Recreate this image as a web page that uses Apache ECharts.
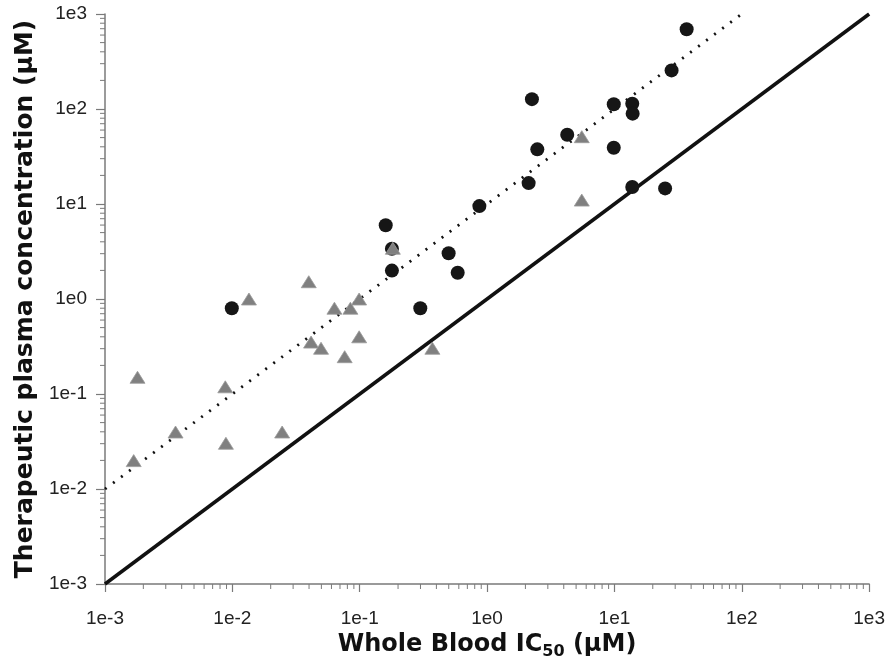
<!DOCTYPE html>
<html>
<head>
<meta charset="utf-8">
<script src="https://cdn.jsdelivr.net/npm/echarts@6/dist/echarts.min.js"></script>
<style>html,body{margin:0;padding:0;background:#fff}#c{width:888px;height:666px}</style>
</head>
<body>
<div id="c"></div>
<script>
// Circles (black)
const circleX = [0.0099, 0.160, 0.179, 0.179, 0.299, 0.499, 0.588, 0.87, 2.12, 2.25, 2.48, 4.26, 9.88, 13.8, 13.9, 9.88, 13.8, 25.0, 28.1, 36.9];
const circleY = [0.80, 5.97, 1.99, 3.38, 0.80, 3.03, 1.89, 9.5, 16.6, 127, 37.6, 53.6, 112, 113.7, 89.3, 39.1, 15.1, 14.6, 255, 690];
// Triangles (grey)
const triX = [0.0018, 0.00168, 0.00358, 0.0088, 0.0089, 0.0246, 0.0135, 0.0398, 0.0633, 0.0845, 0.0989, 0.182, 5.54, 5.54, 0.0415, 0.0497, 0.099, 0.0762, 0.372];
const triY = [0.15, 0.0199, 0.0398, 0.119, 0.0303, 0.0398, 1.0, 1.52, 0.80, 0.80, 1.0, 3.42, 51.1, 11.0, 0.352, 0.303, 0.40, 0.247, 0.303];
// Reference lines
const unityX = [0.001, 1000];
const unityY = [0.001, 1000];
const tenfoldX = [0.001, 100];
const tenfoldY = [0.01, 1000];
// Axis ticks
const tickLabels = ['1e-3', '1e-2', '1e-1', '1e0', '1e1', '1e2', '1e3'];
const axisMin = 0.001, axisMax = 1000;

const zip = (a, b) => a.map((v, i) => [v, b[i]]);
const minorVals = [];
for (let e = -3; e < 3; e++) for (let m = 2; m <= 9; m++) minorVals.push(m * Math.pow(10, e));

const fmt = v => { const e = Math.round(Math.log10(v)); return tickLabels[e + 3] || ''; };
const axisGrey = '#7a7a7a';
const font = "Liberation Sans, Arial, sans-serif";
const titleFont = "DejaVu Sans, sans-serif";

const chart = echarts.init(document.getElementById('c'));
chart.setOption({
  animation: false,
  backgroundColor: '#fff',
  grid: { left: 105, right: 17.5, top: 14, bottom: 82, containLabel: false },
  xAxis: {
    type: 'log', min: axisMin, max: axisMax, logBase: 10,
    axisLine: { show: true, lineStyle: { color: axisGrey, width: 1.5 } },
    axisTick: { show: true, inside: false, length: 8, lineStyle: { color: axisGrey, width: 1.2 } },
    splitLine: { show: false },
    axisLabel: { formatter: fmt, color: '#222', fontSize: 19, fontFamily: font, margin: 25 },
    name: '{t|Whole Blood IC}{s|50}{t| (μM)}',
    nameLocation: 'middle', nameGap: 46,
    nameTextStyle: {
      rich: {
        t: { fontSize: 24, fontWeight: 'bold', color: '#111', fontFamily: titleFont },
        s: { fontSize: 16, fontWeight: 'bold', color: '#111', fontFamily: titleFont, padding: [13, 0, 0, 0] }
      }
    }
  },
  yAxis: {
    type: 'log', min: axisMin, max: axisMax, logBase: 10,
    axisLine: { show: true, lineStyle: { color: axisGrey, width: 1.5 } },
    axisTick: { show: true, inside: false, length: 9, lineStyle: { color: axisGrey, width: 1.2 } },
    splitLine: { show: false },
    axisLabel: { formatter: fmt, color: '#222', fontSize: 19, fontFamily: font, margin: 18 },
    name: 'Therapeutic plasma concentration (μM)',
    nameLocation: 'middle', nameGap: 59, nameRotate: 90,
    nameTextStyle: { fontSize: 25, fontWeight: 'bold', color: '#111', fontFamily: titleFont }
  },
  series: [
    {
      type: 'custom', silent: true, z: 1,
      data: minorVals.map(v => [v, axisMin]),
      renderItem: (params, api) => {
        const p = api.coord([api.value(0), axisMin]);
        return { type: 'line', shape: { x1: p[0], y1: p[1], x2: p[0], y2: p[1] + 5 }, style: { stroke: axisGrey, lineWidth: 1 } };
      }
    },
    {
      type: 'custom', silent: true, z: 1,
      data: minorVals.map(v => [axisMin, v]),
      renderItem: (params, api) => {
        const p = api.coord([axisMin, api.value(1)]);
        return { type: 'line', shape: { x1: p[0], y1: p[1], x2: p[0] - 5, y2: p[1] }, style: { stroke: axisGrey, lineWidth: 1 } };
      }
    },
    {
      type: 'line', data: zip(unityX, unityY), symbol: 'none', z: 2,
      lineStyle: { color: '#111', width: 3.5 }
    },
    {
      type: 'line', data: zip(tenfoldX, tenfoldY), symbol: 'none', z: 2,
      lineStyle: { color: '#111', width: 2.8, type: [2, 8] }
    },
    {
      type: 'scatter', data: zip(circleX, circleY), symbol: 'circle', symbolSize: 14, z: 3,
      itemStyle: { color: '#161616', opacity: 1 }
    },
    {
      type: 'scatter', data: zip(triX, triY), symbol: 'triangle', symbolSize: [15, 12], z: 4,
      itemStyle: { color: '#808080', borderColor: '#9a9a9a', borderWidth: 0.8, opacity: 1 }
    }
  ]
});
</script>
</body>
</html>
